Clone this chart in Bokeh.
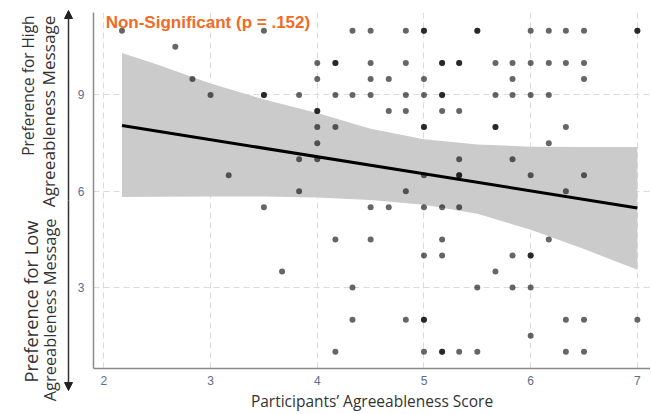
from bokeh.plotting import figure
from bokeh.layouts import row
from bokeh.models import Range1d, Label, Arrow, NormalHead, FixedTicker
from bokeh.embed import file_html
from bokeh.resources import INLINE

# ---- data (duplicates = overlapping, darker dots) ----
agree_score = [
    2.17, 2.67, 2.83, 3.0, 3.17,
    3.5, 3.5, 3.5, 3.5, 3.67,
    3.83, 3.83, 3.83,
    4.0, 4.0, 4.0, 4.0, 4.0, 4.0, 4.0,
    4.17, 4.17, 4.17, 4.17, 4.17, 4.17,
    4.33, 4.33, 4.33, 4.33,
    4.5, 4.5, 4.5, 4.5, 4.5, 4.5,
    4.67, 4.67, 4.67,
    4.83, 4.83, 4.83, 4.83, 4.83, 4.83,
    5.0, 5.0, 5.0, 5.0, 5.0, 5.0, 5.0, 5.0, 5.0, 5.0, 5.0, 5.0,
    5.17, 5.17, 5.17, 5.17, 5.17, 5.17, 5.17, 5.17, 5.17, 5.17,
    5.33, 5.33, 5.33, 5.33, 5.33, 5.33, 5.33, 5.33,
    5.5, 5.5, 5.5, 5.5,
    5.67, 5.67, 5.67, 5.67, 5.67,
    5.83, 5.83, 5.83, 5.83, 5.83, 5.83,
    6.0, 6.0, 6.0, 6.0, 6.0, 6.0, 6.0, 6.0,
    6.17, 6.17, 6.17, 6.17, 6.17,
    6.33, 6.33, 6.33, 6.33, 6.33, 6.33,
    6.5, 6.5, 6.5, 6.5, 6.5, 6.5,
    7.0, 7.0, 7.0,
]
message_pref = [
    11, 10.5, 9.5, 9, 6.5,
    11, 9, 9, 5.5, 3.5,
    9, 7, 6,
    10, 9.5, 8.5, 8.5, 8, 7.5, 7,
    10, 10, 9, 8, 4.5, 1,
    11, 9, 3, 2,
    11, 10, 9.5, 9, 5.5, 4.5,
    9.5, 8.5, 5.5,
    11, 10, 9, 8.5, 6, 2,
    11, 11, 9.5, 9, 8, 8, 6.5, 5.5, 4, 2, 2, 1,
    10, 10, 9, 9, 8.5, 5.5, 4.5, 4, 1, 1,
    10, 10, 8.5, 7, 6.5, 6.5, 5.5, 1,
    11, 11, 3, 1,
    10, 9, 8, 8, 3.5,
    10, 9.5, 9, 7, 4, 3,
    11, 10, 9, 6.5, 4, 4, 3, 1.5,
    11, 10, 9, 7.5, 4.5,
    11, 10, 8, 6, 2, 1,
    11, 10, 9.5, 6.5, 2, 1,
    11, 11, 2,
]

fit_x = [2.17, 7.0]
fit_y = [8.05, 5.48]

band_x = [2.17, 2.5, 3.0, 3.5, 4.0, 4.5, 5.0, 5.5, 6.0, 6.5, 7.0]
band_upper = [10.31, 9.95, 9.36, 8.86, 8.44, 7.95, 7.62, 7.46, 7.39, 7.38, 7.38]
band_lower = [5.82, 5.83, 5.84, 5.84, 5.81, 5.73, 5.58, 5.30, 4.80, 4.20, 3.56]

x_ticks = [2, 3, 4, 5, 6, 7]
y_ticks = [3, 6, 9]

title_text = "Non-Significant (p = .152)"
x_label = "Participants\u2019 Agreeableness Score"
high_lines = ["Preference for High", "Agreeableness Message"]
low_lines = ["Preference for Low", "Agreeableness Message"]

H = 414
LEFT_W = 74

# ---- left strip: double arrow + rotated axis descriptions (pixel space) ----
side = figure(width=LEFT_W, height=H, output_backend="svg", toolbar_location=None,
              x_range=Range1d(0, LEFT_W), y_range=Range1d(H, 0),
              x_axis_location=None, y_axis_location=None, min_border=0)
side.outline_line_color = None
side.xgrid.visible = False
side.ygrid.visible = False
try:
    side.frame_align = False
except Exception:
    pass

head = dict(size=8, fill_color="#222222", line_color="#222222")
side.add_layout(Arrow(x_start=68, y_start=200, x_end=68, y_end=10,
                      line_color="#333333", line_width=1.5, end=NormalHead(**head)))
side.add_layout(Arrow(x_start=68, y_start=200, x_end=68, y_end=390,
                      line_color="#333333", line_width=1.5, end=NormalHead(**head)))

for xpos, ypos, size, txt in ((28, 15, "15.4px", high_lines[0]),
                              (48, 15, "17.2px", high_lines[1]),
                              (30, 220, "18.3px", low_lines[0]),
                              (49, 218, "16.4px", low_lines[1])):
    side.add_layout(Label(x=xpos, y=ypos, text=txt, angle=1.5708,
                          text_font="Open Sans", text_font_size=size,
                          text_color="#333333", text_align="right",
                          text_baseline="middle"))

# ---- main scatter ----
p = figure(width=650 - LEFT_W, height=H, output_backend="svg", toolbar_location=None,
           x_range=Range1d(1.903, 7.123), y_range=Range1d(0.48, 11.57),
           min_border_left=93 - LEFT_W, min_border_right=0, min_border_top=12,
           min_border_bottom=0)
p.outline_line_color = None
p.background_fill_color = "white"
try:
    p.frame_align = False
except Exception:
    pass

for ax, tk, so in ((p.xaxis, x_ticks, 7), (p.yaxis, y_ticks, 9)):
    ax.ticker = FixedTicker(ticks=tk)
    ax.major_tick_line_color = None
    ax.minor_tick_line_color = None
    ax.major_tick_out = 0
    ax.major_tick_in = 0
    ax.minor_tick_out = 0
    ax.minor_tick_in = 0
    ax.axis_line_color = "#8a8a8a"
    ax.axis_line_width = 1.5
    ax.major_label_text_color = "#5b6c8f"
    ax.major_label_text_font = "Liberation Sans"
    ax.major_label_text_font_size = "12px"
    ax.major_label_standoff = so

p.xaxis.axis_label = x_label
p.xaxis.axis_label_text_font = "Open Sans"
p.xaxis.axis_label_text_font_style = "normal"
p.xaxis.axis_label_text_font_size = "15.5px"
p.xaxis.axis_label_text_color = "#333333"
p.xaxis.axis_label_standoff = 2

p.xgrid.ticker = FixedTicker(ticks=x_ticks)
p.ygrid.ticker = FixedTicker(ticks=y_ticks)
for g in (p.xgrid, p.ygrid):
    g.grid_line_color = "#dadada"
    g.grid_line_dash = "6 4"
    g.grid_line_width = 1

p.varea(x=band_x, y1=band_lower, y2=band_upper, fill_color="#cbcbcb")
p.scatter(agree_score, message_pref, size=6, fill_color="black",
          fill_alpha=0.6, line_color=None)
p.line(fit_x, fit_y, line_color="black", line_width=3)

p.add_layout(Label(x=2.017, y=11.26, text=title_text, text_font="Liberation Sans",
                   text_font_style="bold", text_font_size="17px", text_color="#f26a24",
                   text_align="left", text_baseline="middle"))

layout = row(side, p, spacing=0)
open("out.html", "w").write(file_html(layout, INLINE))
